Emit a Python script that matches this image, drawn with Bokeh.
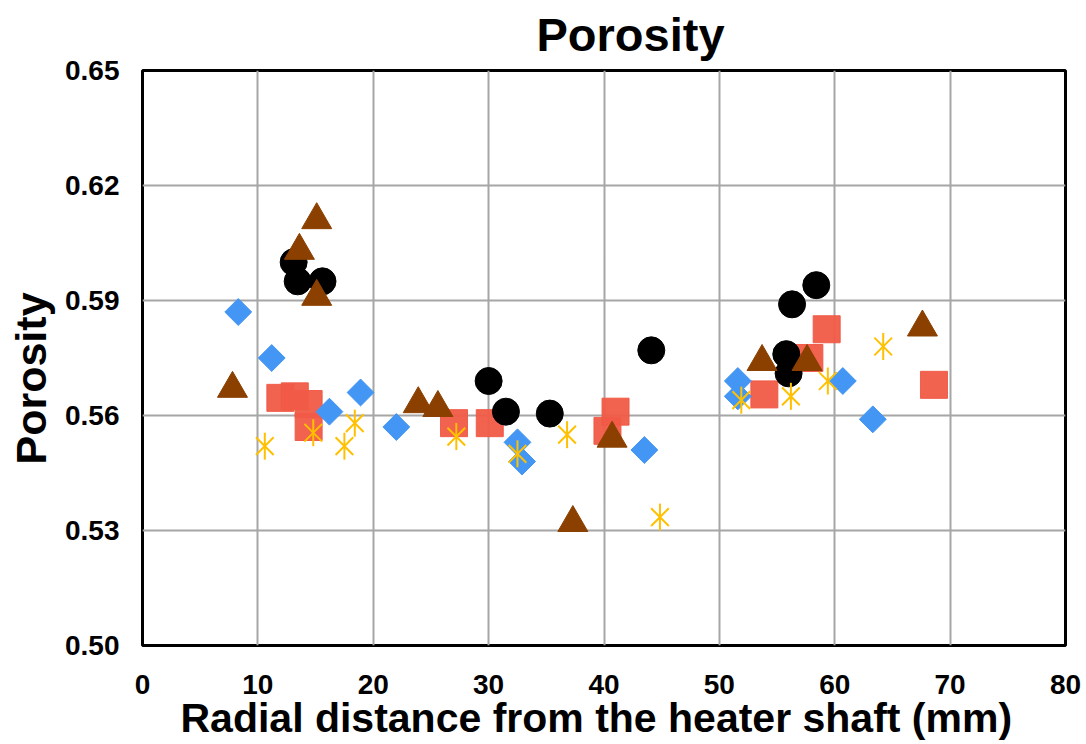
import numpy as np
from bokeh.plotting import figure
from bokeh.models import Range1d, FixedTicker, NumeralTickFormatter, Title
from bokeh.embed import file_html
from bokeh.resources import INLINE

# ---- data ----
x_ticks = [0, 10, 20, 30, 40, 50, 60, 70, 80]
y_ticks = [0.50, 0.53, 0.56, 0.59, 0.62, 0.65]

diamond_x = [8.3, 11.2, 16.2, 18.9, 22.0, 32.5, 32.9, 43.5, 51.6, 51.6, 60.7, 63.3]
diamond_y = [0.587, 0.575, 0.561, 0.566, 0.557, 0.553, 0.548, 0.551, 0.569, 0.565, 0.569, 0.559]

square_x = [11.95, 13.2, 14.4, 14.4, 27.0, 30.1, 40.3, 41.0, 53.9, 57.8, 59.3, 68.6]
square_y = [0.5646, 0.565, 0.563, 0.557, 0.558, 0.558, 0.556, 0.561, 0.5655, 0.575, 0.5825, 0.568]

circle_x = [13.1, 13.45, 15.6, 30.0, 31.5, 35.3, 44.1, 55.8, 56.0, 56.3, 58.4]
circle_y = [0.600, 0.595, 0.595, 0.569, 0.561, 0.5605, 0.577, 0.576, 0.571, 0.589, 0.594]

triangle_x = [7.8, 13.6, 15.1, 15.1, 23.9, 25.6, 37.3, 40.7, 53.7, 57.6, 67.6]
triangle_y = [0.567, 0.603, 0.611, 0.591, 0.563, 0.562, 0.532, 0.554, 0.574, 0.574, 0.583]

asterisk_x = [10.6, 14.8, 17.5, 18.4, 27.2, 32.5, 36.8, 44.85, 51.9, 56.2, 59.4, 64.2]
asterisk_y = [0.552, 0.5555, 0.552, 0.558, 0.5545, 0.550, 0.555, 0.5335, 0.564, 0.565, 0.569, 0.578]

title_text = "Porosity"
x_label = "Radial distance from the heater shaft (mm)"
y_label = "Porosity"

FONT = "Liberation Sans"

p = figure(width=1086, height=744, output_backend="svg", toolbar_location=None,
           x_range=Range1d(0, 80), y_range=Range1d(0.50, 0.65),
           min_border_left=142, min_border_right=21, min_border_top=70, min_border_bottom=99)

p.title = Title(text=title_text, align="left", offset=394, vertical_align="top", standoff=15,
                text_font=FONT, text_font_size="47px", text_font_style="bold", text_color="black")

# series
p.scatter(square_x, square_y, marker="square", size=27, fill_color="#F05A46", line_color="#F05A46",
          fill_alpha=0.95, line_alpha=0.95)
p.scatter(diamond_x, diamond_y, marker="square", angle=np.pi / 4, size=19,
          fill_color="#4396F3", line_color="#4396F3")
p.scatter(circle_x, circle_y, marker="circle", size=27, fill_color="black", line_color="black")
p.scatter(triangle_x, triangle_y, marker="triangle", size=30, fill_color="#8B4000", line_color="#8B4000")
p.scatter(asterisk_x, asterisk_y, marker="x", size=25, line_color="#FFC000", line_width=2)
p.scatter(asterisk_x, asterisk_y, marker="dash", angle=np.pi / 2, size=27, line_color="#FFC000", line_width=2)

# axes
for ax in (p.xaxis[0], p.yaxis[0]):
    ax.axis_line_color = None
    ax.major_tick_line_color = None
    ax.minor_tick_line_color = None
    ax.major_tick_out = 0
    ax.major_tick_in = 0
    ax.major_label_text_font = FONT
    ax.major_label_text_font_size = "28px"
    ax.major_label_text_font_style = "bold"
    ax.major_label_text_color = "black"

p.xaxis.major_label_standoff = 29
p.yaxis.major_label_standoff = 23
p.xaxis.ticker = FixedTicker(ticks=x_ticks)
p.yaxis.ticker = FixedTicker(ticks=y_ticks)
p.yaxis.formatter = NumeralTickFormatter(format="0.00")

# axis titles (as panel titles so they can sit off-centre like the reference)
p.add_layout(Title(text=x_label, align="left", offset=38, vertical_align="top", standoff=-4,
                   text_font=FONT, text_font_size="41px", text_font_style="bold",
                   text_color="black"), "below")
p.add_layout(Title(text=y_label, align="left", offset=181, vertical_align="top", standoff=11,
                   text_font=FONT, text_font_size="43px", text_font_style="bold",
                   text_color="black"), "left")

p.xgrid.ticker = FixedTicker(ticks=x_ticks)
p.ygrid.ticker = FixedTicker(ticks=y_ticks)
p.grid.grid_line_color = "#A6A6A6"
p.grid.grid_line_width = 2

p.outline_line_color = "black"
p.outline_line_width = 3
p.background_fill_color = "white"
p.border_fill_color = "white"

open("out.html", "w").write(file_html(p, INLINE))
